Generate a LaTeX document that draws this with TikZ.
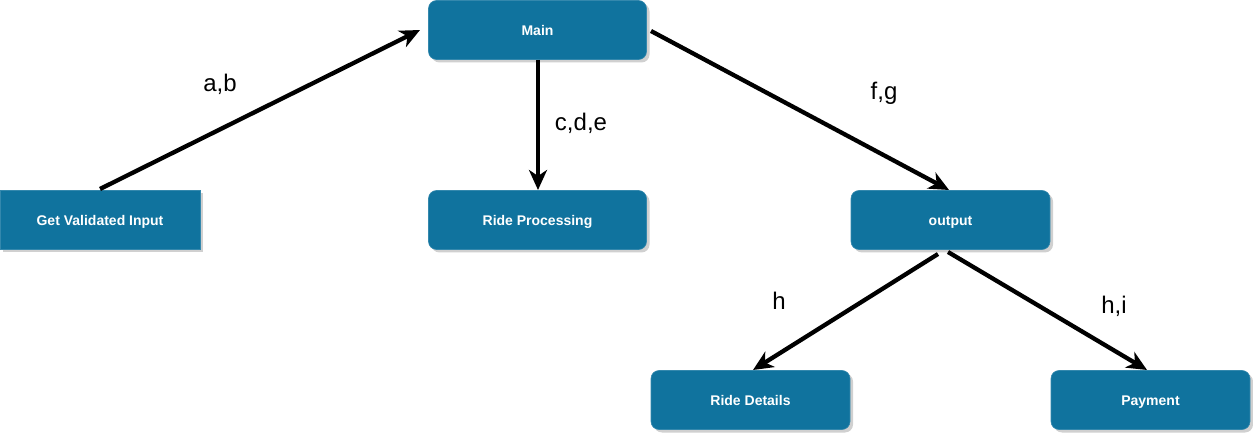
\documentclass[tikz,border=0pt]{standalone}
\usepackage{fontspec}
\setmainfont{Liberation Sans}
\usetikzlibrary{arrows.meta,shadows}
\definecolor{boxblue}{HTML}{10739E}
\definecolor{shadowgray}{HTML}{B0B0B0}
\begin{document}
\begin{tikzpicture}[x=1pt,y=-1pt,
  box/.style={fill=boxblue, draw=boxblue!85!white, line width=0.6pt, rounded corners=8pt,
    minimum width=218pt, minimum height=59pt, text=white, font=\bfseries\fontsize{14}{16}\selectfont,
    text height=13pt, text depth=1pt,
    inner sep=0pt, drop shadow={shadow xshift=3pt, shadow yshift=-3pt, fill=shadowgray, opacity=0.6}},
  sqbox/.style={box, rounded corners=0pt},
  conn/.style={line width=4.3pt, -{Stealth[length=20pt,width=18pt,inset=6pt]}},
  lbl/.style={font=\fontsize{24}{26}\selectfont, inner sep=0pt}]
\useasboundingbox (0,0) rectangle (1253,435);
\node[sqbox, minimum width=200pt] (gvi) at (100,220) {Get Validated Input};
\node[box] (main) at (537.5,30) {Main};
\node[box] (rp) at (537.5,220) {Ride Processing};
\node[box, minimum width=199pt] (out) at (950.5,220) {output};
\node[box, minimum width=199pt] (rd) at (750.5,400) {Ride Details};
\node[box, minimum width=199pt] (pay) at (1150.5,400) {Payment};
\coordinate (gvitop) at (100,189);
\coordinate (maintip) at (420,30);
\coordinate (mainbot) at (538,60);
\coordinate (rptop) at (538,190);
\coordinate (mainr) at (651,31);
\coordinate (outtop) at (949,190);
\coordinate (outb1) at (938,254);
\coordinate (rdtop) at (753,370);
\coordinate (outb2) at (948,252);
\coordinate (paytop) at (1147,370);
\draw[conn] (gvitop) -- (maintip);
\draw[conn] (mainbot) -- (rptop);
\draw[conn] (mainr) -- (outtop);
\draw[conn] (outb1) -- (rdtop);
\draw[conn] (outb2) -- (paytop);
\node[lbl] (lab) at (220,84) {a,b};
\node[lbl] (lcde) at (581,123) {c,d,e};
\node[lbl] (lfg) at (884,93) {f,g};
\node[lbl] (lh) at (779,301) {h};
\node[lbl] (lhi) at (1114,306) {h,i};
\end{tikzpicture}
\end{document}
